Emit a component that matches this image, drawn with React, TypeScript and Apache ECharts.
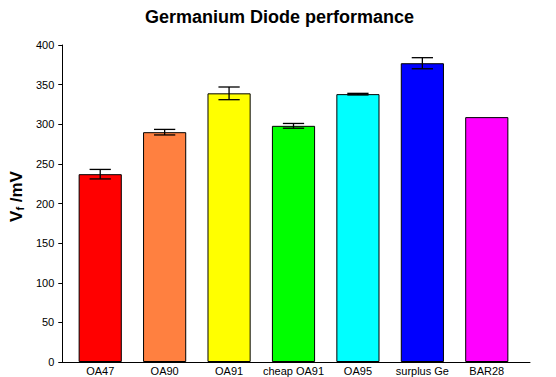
import React, { useEffect, useRef } from "react";
import * as echarts from "echarts";

const categories = ["OA47", "OA90", "OA91", "cheap OA91", "OA95", "surplus Ge", "BAR28"];
const values = [237, 290, 339, 298, 338, 377, 309];
const errors = [6, 3.5, 8, 3, 1, 7, 0];
const barColors = ["#ff0000", "#ff8040", "#ffff00", "#00ff00", "#00ffff", "#0000ff", "#ff00ff"];
const yTicks = { min: 0, max: 400, interval: 50 };

const FONT = "'Liberation Sans', Arial, sans-serif";

export default function App() {
  const ref = useRef<HTMLDivElement>(null);
  useEffect(() => {
    document.body.style.margin = "0";
    const chart = echarts.init(ref.current!, null, { renderer: "svg" });
    const option: any = {
      animation: false,
      backgroundColor: "#ffffff",
      title: {
        text: "Germanium Diode performance",
        left: 140,
        top: 3,
        textStyle: { fontFamily: FONT, fontSize: 18, fontWeight: "bold", color: "#000" },
      },
      grid: [
        { left: 68, right: 37, top: 45, bottom: 15 },
        { left: 58, right: 26, top: 45, bottom: 15 },
      ],
      xAxis: [
        {
          type: "category",
          gridIndex: 0,
          data: categories,
          axisLine: { show: false },
          axisTick: { show: false },
          axisLabel: { fontFamily: FONT, fontSize: 11, color: "#000", margin: 3, interval: 0 },
        },
        {
          type: "value",
          gridIndex: 1,
          min: 0,
          max: 1,
          axisLine: { show: true, onZero: false, lineStyle: { color: "#000", width: 1 } },
          axisTick: { show: false },
          axisLabel: { show: false },
          splitLine: { show: false },
        },
      ],
      yAxis: [
        {
          type: "value",
          gridIndex: 0,
          ...yTicks,
          show: false,
          splitLine: { show: false },
        },
        {
          type: "value",
          gridIndex: 1,
          ...yTicks,
          axisLine: { show: true, lineStyle: { color: "#000", width: 1 } },
          axisTick: { show: true, length: 4, lineStyle: { color: "#000" } },
          axisLabel: { fontFamily: FONT, fontSize: 11, color: "#000", margin: 8 },
          splitLine: { show: false },
          name: "{v|V}{s|f}{v| /mV}",
          nameLocation: "middle",
          nameGap: 33,
          nameTextStyle: {
            padding: [0, 0, 0, 14],
            rich: {
              v: { fontFamily: FONT, fontSize: 17, fontWeight: "bold", color: "#000", verticalAlign: "bottom", lineHeight: 20 },
              s: { fontFamily: FONT, fontSize: 11, fontWeight: "bold", color: "#000", verticalAlign: "bottom", lineHeight: 14 },
            },
          },
        },
      ],
      series: [
        {
          type: "bar",
          xAxisIndex: 0,
          yAxisIndex: 0,
          barWidth: "67%",
          data: values.map((v, i) => ({
            value: v,
            itemStyle: { color: barColors[i], borderColor: "#000", borderWidth: 1 },
          })),
        },
        {
          type: "custom",
          xAxisIndex: 0,
          yAxisIndex: 0,
          z: 10,
          data: categories.map((c, i) => [i, values[i], errors[i]]),
          renderItem: (params: any, api: any) => {
            const idx = api.value(0);
            const mean = api.value(1);
            const err = api.value(2);
            if (!err) return { type: "group", children: [] };
            const top = api.coord([idx, mean + err]);
            const bot = api.coord([idx, mean - err]);
            const half = api.size([1, 0])[0] * 0.165;
            const style = { stroke: "#000", lineWidth: 1.3 };
            return {
              type: "group",
              children: [
                { type: "line", shape: { x1: top[0], y1: top[1], x2: bot[0], y2: bot[1] }, style },
                { type: "line", shape: { x1: top[0] - half, y1: top[1], x2: top[0] + half, y2: top[1] }, style },
                { type: "line", shape: { x1: bot[0] - half, y1: bot[1], x2: bot[0] + half, y2: bot[1] }, style },
              ],
            };
          },
        },
      ],
    };
    chart.setOption(option);
    return () => chart.dispose();
  }, []);
  return <div ref={ref} style={{ width: 556, height: 377 }} />;
}
